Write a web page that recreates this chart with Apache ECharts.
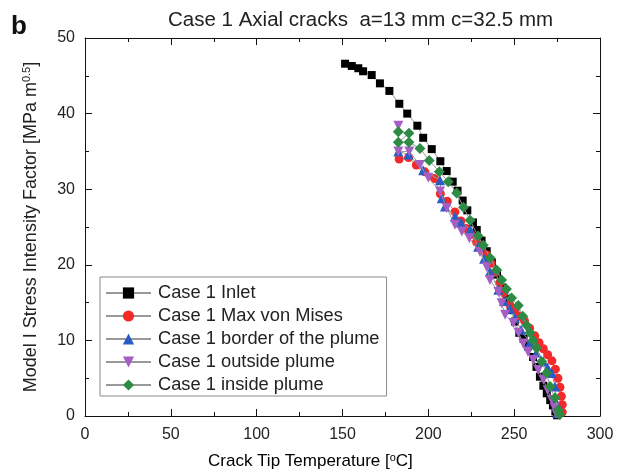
<!DOCTYPE html>
<html><head><meta charset="utf-8">
<script src="https://cdn.jsdelivr.net/npm/echarts@6/dist/echarts.min.js"></script>
<style>html,body{margin:0;padding:0;background:#fff}#c{width:625px;height:475px}</style>
</head><body><div id="c"></div>
<script>
const inletT = [151.5,155.4,159.2,162,167,171.8,177.3,183.1,187.7,193.6,197,202,207,210.7,214.2,217,220,222.7,226,228.2,231,234,237,240,243,245.5,248,250.5,253,255.5,258,261,263,265,267,269,271,272.6,274,275];
const inletK = [46.6,46.3,46.0,45.6,45.1,44.0,43.0,41.3,40.0,38.4,36.8,35.3,33.7,32.4,31.0,29.8,28.5,27.2,25.6,24.6,23.2,21.8,20.3,18.7,17.0,15.5,14.0,12.5,11.0,10.2,9.2,7.8,6.5,5.2,4.0,3.0,2.1,1.4,0.6,0.1];
const misesT = [183,188.5,193,198,203.5,207,211,215.5,219,222,225,228,231,234,236.5,239,241.5,244,247.5,250.5,253,256,259,262,264.5,267,269.5,272,274,275.5,276.7,277.5,278,278];
const misesK = [34.0,34.2,33.2,32.3,31.4,29.4,28.4,27.0,25.8,24.8,24.0,23.0,22.3,21.3,20.2,19.0,17.6,16.3,14.7,14.0,13.2,12.6,11.6,10.6,9.7,8.9,8.1,7.3,6.2,5.0,3.8,2.6,1.5,0.5];
const borderT = [182.5,188.5,197,206.8,207.8,209.7,215.5,219,224.3,229,232.5,235.9,240.8,244,247.6,250.5,254,259.2,263,267,269.5,271.9,273.8,274.7,275.2];
const borderK = [35.0,34.6,32.5,31.2,28.8,27.7,26.4,25.6,24.7,22.4,20.8,19.1,16.7,15.2,14.2,13.0,11.4,9.7,8.4,7.2,6.4,5.7,3.9,1.7,0.4];
const outsideT = [182.5,182.5,188.9,195.1,200,206.8,210.7,215.5,219.5,223.9,230.1,234,235.9,240.8,242.7,244.7,249.5,252.5,255.3,258,261.1,264,267,269.5,271.9,273.5,274.5];
const outsideK = [38.4,35.0,35.0,33.2,31.5,29.7,27.5,25.3,24.4,23.5,21.7,19.7,18.0,16.4,14.9,13.4,12.3,11.0,9.6,8.5,7.4,6.1,4.8,3.4,2.1,1.1,0.3];
const insideT = [182.5,188.7,182.5,188.7,195.1,200.5,206.4,211.6,216.5,220.5,224.3,229,232,236,239.8,242.7,245.5,248.5,252.4,255,257.3,259.2,261,263.1,266,268.9,270.9,273.8,275.7,276.5];
const insideK = [37.6,37.4,36.2,36.2,35.4,33.8,32.3,31.0,29.5,27.6,25.9,23.8,22.6,20.9,19.3,18.0,16.8,15.6,14.6,13.2,12.0,11.0,10.0,9.0,7.2,5.7,3.9,2.4,0.8,0.2];
const seriesNames = ['Case 1 Inlet','Case 1 Max von Mises','Case 1 border of the plume','Case 1 outside plume','Case 1 inside plume'];
const colors = ['#000000','#f42a2a','#2b5cc4','#a55ec4','#2e8b45'];
const xTicks = [0,50,100,150,200,250,300];
const yTicks = [0,10,20,30,40,50];

const zip = (a,b) => a.map((v,i)=>[v,b[i]]);
const sets = [[inletT,inletK],[misesT,misesK],[borderT,borderK],[outsideT,outsideK],[insideT,insideK]];
const symbols = ['rect','circle','triangle','triangle','diamond'];
const sizes = [8,9,10,10,11];
const rots = [0,0,0,180,0];
const FONT = 'Liberation Sans, Arial, sans-serif';

const chart = echarts.init(document.getElementById('c'));
const axisCommon = {
  axisLine:{show:true,onZero:false,lineStyle:{color:'#111',width:1}},
  axisTick:{show:true,inside:true,length:7,lineStyle:{color:'#111'}},
  minorTick:{show:true,splitNumber:2,length:4,lineStyle:{color:'#111'}},
  splitLine:{show:false}
};
chart.setOption({
  animation:false,
  textStyle:{fontFamily:FONT},
  title:{text:'Case 1 Axial cracks  a=13 mm c=32.5 mm',left:163,top:5,
    textStyle:{fontFamily:FONT,fontSize:20.5,fontWeight:'normal',color:'#222'}},
  graphic:[
    {type:'text',left:11,top:14,style:{text:'b',font:'bold 26px '+FONT,fill:'#111'}},
    {type:'text',left:208,top:452,style:{rich:{a:{fontSize:17,fontFamily:FONT,color:'#222'},s:{fontSize:11,fontFamily:FONT,color:'#222',padding:[0,0,8,0]}},
      text:'{a|Crack Tip Temperature [}{s|o}{a|C]}'}}
  ],
  legend:{orient:'vertical',left:100,top:277,padding:[7,7,2,5],itemGap:5,itemWidth:45,itemHeight:14,
    borderColor:'#8a8a8a',borderWidth:1,backgroundColor:'#fff',
    textStyle:{fontFamily:FONT,fontSize:18.3,color:'#222',padding:[0,0,0,2],lineHeight:18},
    data:seriesNames},
  grid:{left:85,right:25,top:38,bottom:59},
  xAxis:[
    Object.assign({type:'value',min:0,max:300,interval:50,position:'bottom',
      axisLabel:{fontSize:16,color:'#222',margin:11,fontFamily:FONT}},axisCommon),
    Object.assign({type:'value',min:0,max:300,interval:50,position:'top',axisLabel:{show:false}},axisCommon)
  ],
  yAxis:[
    Object.assign({type:'value',min:0,max:50,interval:10,position:'left',
      axisLabel:{fontSize:16,color:'#222',margin:10,fontFamily:FONT},
      name:'{a|Model I Stress Intensity Factor [MPa m}{s|0.5}{a|]}',nameLocation:'middle',nameGap:44,nameRotate:90,
      nameTextStyle:{rich:{a:{fontSize:18,fontFamily:FONT,color:'#222'},s:{fontSize:11,fontFamily:FONT,color:'#222',padding:[0,0,9,0]}}}},axisCommon),
    Object.assign({type:'value',min:0,max:50,interval:10,position:'right',axisLabel:{show:false}},axisCommon)
  ],
  series: sets.map((s,i)=>({
    type:'line',name:seriesNames[i],data:zip(s[0],s[1]),
    symbol:symbols[i],symbolSize:sizes[i],symbolRotate:rots[i],showAllSymbol:true,
    itemStyle:{color:colors[i]},
    lineStyle:{color:'#999',width:1},
    z:2+i
  }))
});
</script></body></html>
